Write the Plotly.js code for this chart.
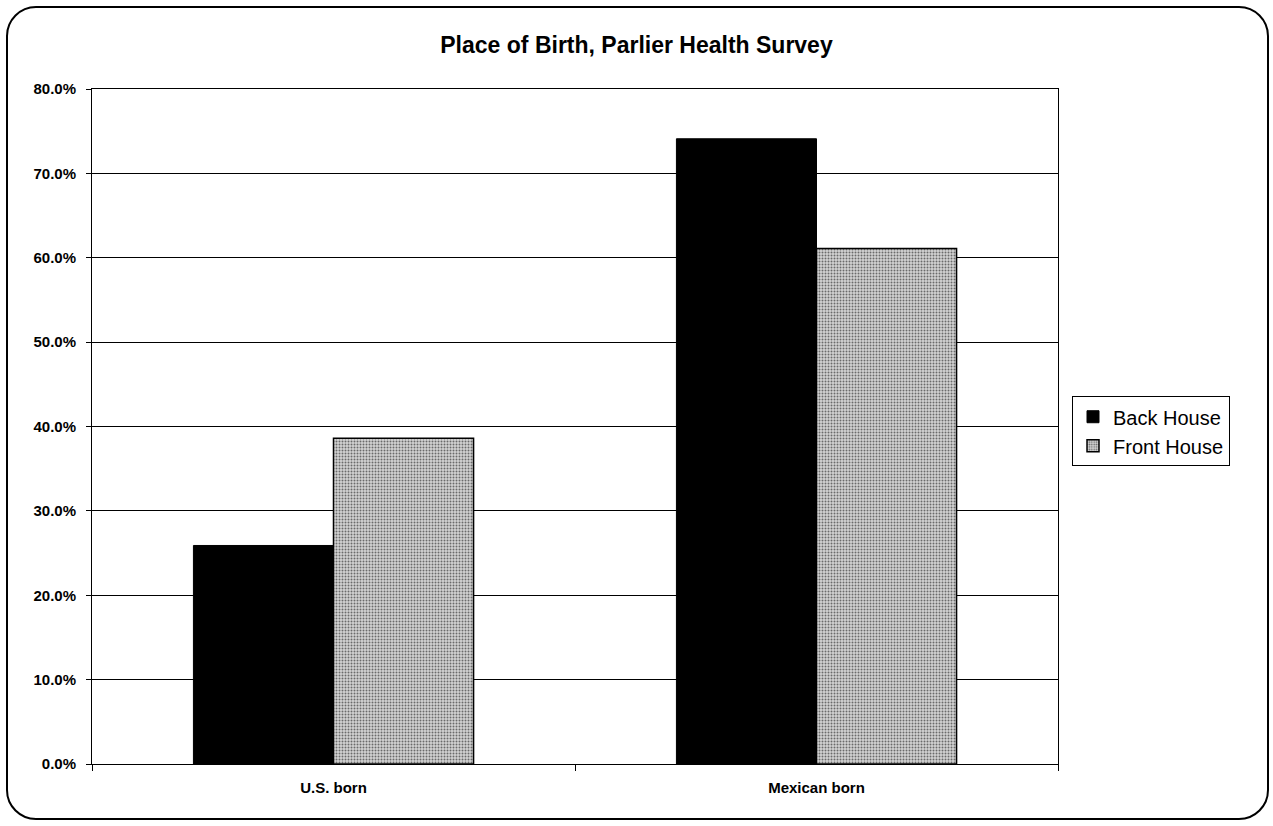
<!DOCTYPE html>
<html>
<head>
<meta charset="utf-8">
<script src="https://cdn.plot.ly/plotly-3.0.1.min.js"></script>
<style>
  html, body { margin: 0; padding: 0; background: #fff; }
  #wrap { position: relative; width: 1273px; height: 826px; }
  #chart { width: 1273px; height: 826px; }
  #frame {
    position: absolute; left: 6px; top: 6px; width: 1259px; height: 810px;
    border: 2.5px solid #000; border-radius: 30px; pointer-events: none;
  }
</style>
</head>
<body>
<div id="wrap">
  <div id="chart"></div>
  <div id="frame"></div>
</div>
<script>
// Place of birth shares by household type
const categories = ["U.S. born", "Mexican born"];
const backHouse = [0.259, 0.741];
const frontHouse = [0.386, 0.611];
const yTickValues = [0, 0.1, 0.2, 0.3, 0.4, 0.5, 0.6, 0.7, 0.8];
const yTickLabels = ["0.0%", "10.0%", "20.0%", "30.0%", "40.0%", "50.0%", "60.0%", "70.0%", "80.0%"];

const font = "Liberation Sans, Arial, sans-serif";

const traces = [
  {
    type: "bar",
    name: "Back House",
    x: categories,
    y: backHouse,
    marker: { color: "#000000", line: { color: "#000000", width: 1 } },
    hoverinfo: "x+y"
  },
  {
    type: "bar",
    name: "Front House",
    x: categories,
    y: frontHouse,
    marker: {
      color: "#c4c4c4",
      line: { color: "#000000", width: 1.5 },
      pattern: { shape: ".", bgcolor: "#d4d4d4", fgcolor: "#6a6a6a", size: 3, solidity: 0.35 }
    },
    hoverinfo: "x+y"
  }
];

const layout = {
  width: 1273,
  height: 826,
  margin: { l: 92, r: 215, t: 89, b: 62 },
  paper_bgcolor: "#ffffff",
  plot_bgcolor: "#ffffff",
  font: { family: font, color: "#000" },
  title: {
    text: "<b>Place of Birth, Parlier Health Survey</b>",
    font: { family: font, size: 23, color: "#000" },
    x: 0.5, xanchor: "center", xref: "container",
    y: 1 - 45 / 826, yanchor: "middle"
  },
  barmode: "group",
  bargap: 0.42,
  bargroupgap: 0,
  xaxis: {
    type: "category",
    showgrid: false,
    showline: true, linecolor: "#000", linewidth: 1, mirror: true,
    ticks: "outside", ticklen: 6, tickcolor: "#000", tickson: "boundaries",
    tickfont: { family: font, size: 15, color: "#000", weight: "bold" },
    ticklabelstandoff: 10,
    zeroline: false
  },
  yaxis: {
    range: [0, 0.8],
    tickvals: yTickValues,
    ticktext: yTickLabels,
    showgrid: true, gridcolor: "#000", gridwidth: 1,
    showline: true, linecolor: "#000", linewidth: 1, mirror: true,
    ticks: "outside", ticklen: 5, tickcolor: "#000",
    tickfont: { family: font, size: 15, color: "#000", weight: "bold" },
    ticklabelstandoff: 7,
    zeroline: false,
    fixedrange: true
  },
  showlegend: true,
  legend: {
    x: 1.0145, xanchor: "left",
    y: 0.493, yanchor: "middle",
    bordercolor: "#000", borderwidth: 1,
    bgcolor: "#fff",
    font: { family: font, size: 20, color: "#000" },
    tracegroupgap: 2,
    itemwidth: 30
  }
};

Plotly.newPlot("chart", traces, layout, { displayModeBar: false, staticPlot: true });
</script>
</body>
</html>
